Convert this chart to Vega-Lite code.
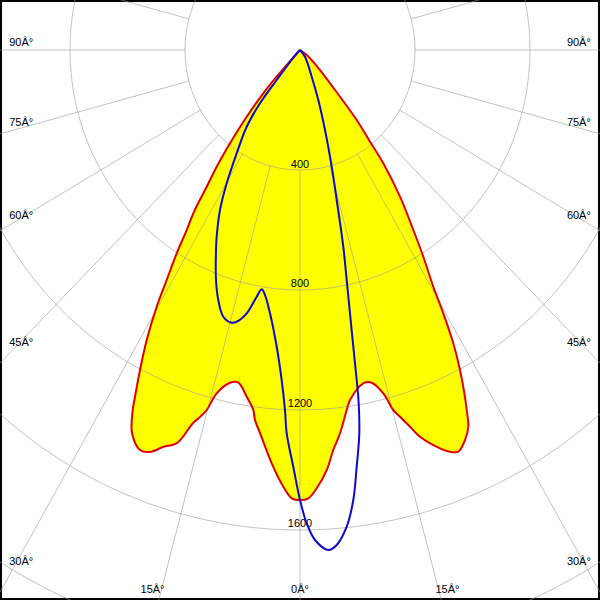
{
  "$schema": "https://vega.github.io/schema/vega-lite/v6.json",
  "width": 600,
  "height": 600,
  "padding": 0,
  "autosize": {"type": "none"},
  "background": "white",
  "config": {"view": {"stroke": "black", "strokeWidth": 4}},
  "datasets": {
    "c0": [
      {"i":1,"x":0,"y":0},{"i":2,"x":-81,"y":-89},{"i":3,"x":-127.7,"y":-144.3},{"i":4,"x":-185.4,"y":-222.3},
      {"i":5,"x":-243.5,"y":-311},{"i":6,"x":-289.8,"y":-389},{"i":7,"x":-324.5,"y":-455.7},{"i":8,"x":-371.1,"y":-544.3},
      {"i":9,"x":-394.1,"y":-600},{"i":10,"x":-428.9,"y":-677.7},{"i":11,"x":-463.7,"y":-766.7},{"i":12,"x":-498.4,"y":-855.7},
      {"i":13,"x":-533.2,"y":-966.7},{"i":14,"x":-556.5,"y":-1066.7},{"i":15,"x":-573.9,"y":-1155.7},{"i":16,"x":-581.9,"y":-1200},
      {"i":17,"x":-584.3,"y":-1276.7},{"i":18,"x":-556.5,"y":-1333.3},{"i":19,"x":-521.7,"y":-1340},{"i":20,"x":-476.5,"y":-1323.3},
      {"i":21,"x":-427.8,"y":-1310},{"i":22,"x":-372.2,"y":-1243.3},{"i":23,"x":-347.8,"y":-1223.3},{"i":24,"x":-324.5,"y":-1200},
      {"i":25,"x":-289.8,"y":-1144.3},{"i":26,"x":-243.5,"y":-1109},{"i":27,"x":-214.6,"y":-1109},{"i":28,"x":-185.4,"y":-1155.7},
      {"i":29,"x":-162.4,"y":-1200},{"i":30,"x":-156.5,"y":-1233.3},{"i":31,"x":-139.1,"y":-1276.7},{"i":32,"x":-98.4,"y":-1377.7},
      {"i":33,"x":-58.1,"y":-1455.7},{"i":34,"x":-28.9,"y":-1494.3},{"i":35,"x":0,"y":-1500},{"i":36,"x":28.9,"y":-1494.3},
      {"i":37,"x":58.1,"y":-1461},{"i":38,"x":92.9,"y":-1400},{"i":39,"x":115.8,"y":-1333.3},{"i":40,"x":139.1,"y":-1277.7},
      {"i":41,"x":162.4,"y":-1200},{"i":42,"x":173.9,"y":-1166.7},{"i":43,"x":220.2,"y":-1111},{"i":44,"x":249.4,"y":-1109},
      {"i":45,"x":289.7,"y":-1144.3},{"i":46,"x":324.5,"y":-1200},{"i":47,"x":347.8,"y":-1222.3},{"i":48,"x":382.6,"y":-1255.7},
      {"i":49,"x":417.4,"y":-1289},{"i":50,"x":487,"y":-1327.7},{"i":51,"x":521.7,"y":-1339},{"i":52,"x":550.6,"y":-1339},
      {"i":53,"x":573.9,"y":-1300},{"i":54,"x":585.4,"y":-1255.7},{"i":55,"x":579.8,"y":-1200},{"i":56,"x":573.9,"y":-1156.7},
      {"i":57,"x":556.5,"y":-1066.7},{"i":58,"x":533.2,"y":-977.7},{"i":59,"x":498.4,"y":-877.7},{"i":60,"x":463.7,"y":-789},
      {"i":61,"x":428.9,"y":-689},{"i":62,"x":394.1,"y":-600},{"i":63,"x":347.8,"y":-489},{"i":64,"x":289.7,"y":-377.7},
      {"i":65,"x":243.5,"y":-305.7},{"i":66,"x":197.2,"y":-233.3},{"i":67,"x":139.1,"y":-155.7},{"i":68,"x":69.6,"y":-66.7},
      {"i":69,"x":23.3,"y":-16.7},{"i":70,"x":0,"y":0}
    ],
    "c90": [
      {"i":1,"x":0,"y":0},{"i":2,"x":-11.5,"y":-11},{"i":3,"x":-81,"y":-100},{"i":4,"x":-139.1,"y":-177.7},
      {"i":5,"x":-185.4,"y":-255.7},{"i":6,"x":-220.2,"y":-344.3},{"i":7,"x":-255,"y":-444.3},{"i":8,"x":-278.3,"y":-533.3},
      {"i":9,"x":-289.8,"y":-622.3},{"i":10,"x":-292.2,"y":-666.7},{"i":11,"x":-292.2,"y":-766.7},{"i":12,"x":-284.2,"y":-833.3},
      {"i":13,"x":-266.8,"y":-889},{"i":14,"x":-237.6,"y":-909},{"i":15,"x":-220.2,"y":-905.7},{"i":16,"x":-185.4,"y":-877.7},
      {"i":17,"x":-150.6,"y":-822.3},{"i":18,"x":-133.2,"y":-797.7},{"i":19,"x":-121.7,"y":-816.7},{"i":20,"x":-104.3,"y":-877.7},
      {"i":21,"x":-81,"y":-989},{"i":22,"x":-63.7,"y":-1100},{"i":23,"x":-52.2,"y":-1200},{"i":24,"x":-46.3,"y":-1277.7},
      {"i":25,"x":-23.3,"y":-1389},{"i":26,"x":0,"y":-1500},{"i":27,"x":23.3,"y":-1577.7},{"i":28,"x":52.2,"y":-1633.3},
      {"i":29,"x":98.4,"y":-1666.7},{"i":30,"x":127.7,"y":-1650},{"i":31,"x":162.4,"y":-1589},{"i":32,"x":185.4,"y":-1500},
      {"i":33,"x":197.2,"y":-1389},{"i":34,"x":206.3,"y":-1277.7},{"i":35,"x":203.5,"y":-1166.7},{"i":36,"x":197.2,"y":-1100},
      {"i":37,"x":185.4,"y":-989},{"i":38,"x":173.9,"y":-877.7},{"i":39,"x":162.4,"y":-766.7},{"i":40,"x":150.6,"y":-655.7},
      {"i":41,"x":127.7,"y":-500},{"i":42,"x":110.3,"y":-389},{"i":43,"x":87,"y":-266.7},{"i":44,"x":63.7,"y":-166.7},
      {"i":45,"x":40.7,"y":-89},{"i":46,"x":17.4,"y":-22.3},{"i":47,"x":0,"y":0}
    ],
    "rings": [{"cd":400},{"cd":800},{"cd":1200},{"cd":1600},{"cd":2000}],
    "radials": [
      {"a":0,"x":0,"y":-400,"x2":0,"y2":-2400},
      {"a":15,"x":103.53,"y":-386.37,"x2":621.17,"y2":-2318.22},
      {"a":-15,"x":-103.53,"y":-386.37,"x2":-621.17,"y2":-2318.22},
      {"a":30,"x":200,"y":-346.41,"x2":1200,"y2":-2078.46},
      {"a":-30,"x":-200,"y":-346.41,"x2":-1200,"y2":-2078.46},
      {"a":45,"x":282.84,"y":-282.84,"x2":1697.06,"y2":-1697.06},
      {"a":-45,"x":-282.84,"y":-282.84,"x2":-1697.06,"y2":-1697.06},
      {"a":60,"x":346.41,"y":-200,"x2":2078.46,"y2":-1200},
      {"a":-60,"x":-346.41,"y":-200,"x2":-2078.46,"y2":-1200},
      {"a":75,"x":386.37,"y":-103.53,"x2":2318.22,"y2":-621.17},
      {"a":-75,"x":-386.37,"y":-103.53,"x2":-2318.22,"y2":-621.17},
      {"a":90,"x":400,"y":0,"x2":2400,"y2":0},
      {"a":-90,"x":-400,"y":0,"x2":-2400,"y2":0},
      {"a":105,"x":386.37,"y":103.53,"x2":2318.22,"y2":621.17},
      {"a":-105,"x":-386.37,"y":103.53,"x2":-2318.22,"y2":621.17}
    ],
    "labels": [
      {"t":"90Â°","x":-970,"y":13.3},{"t":"90Â°","x":970,"y":13.3},
      {"t":"75Â°","x":-970,"y":-253.3},{"t":"75Â°","x":970,"y":-253.3},
      {"t":"60Â°","x":-970,"y":-563.3},{"t":"60Â°","x":970,"y":-563.3},
      {"t":"45Â°","x":-970,"y":-986.7},{"t":"45Â°","x":970,"y":-986.7},
      {"t":"30Â°","x":-970,"y":-1717.8},{"t":"30Â°","x":970,"y":-1717.8},
      {"t":"15Â°","x":-513,"y":-1809},{"t":"15Â°","x":513,"y":-1809},
      {"t":"0Â°","x":0,"y":-1809},
      {"t":"400","x":0,"y":-393},{"t":"800","x":0,"y":-790},
      {"t":"1200","x":0,"y":-1190},{"t":"1600","x":0,"y":-1591}
    ]
  },
  "layer": [
    {
      "data": {"name": "c0"},
      "mark": {"type": "line", "interpolate": "catmull-rom", "fill": "#ffff00", "strokeWidth": 0, "clip": true},
      "encoding": {
        "x": {"field": "x", "type": "quantitative", "scale": {"domain": [-1043.5, 1043.5], "nice": false, "zero": false}, "axis": null},
        "y": {"field": "y", "type": "quantitative", "scale": {"domain": [-1833.3, 166.7], "nice": false, "zero": false}, "axis": null},
        "order": {"field": "i", "type": "quantitative"}
      }
    },
    {
      "data": {"name": "rings"},
      "mark": {"type": "point", "shape": "M -0.95833 0 A 0.95833 1 0 1 1 0.95833 0 A 0.95833 1 0 1 1 -0.95833 0 Z", "filled": false, "opacity": 1, "stroke": "#999999", "strokeOpacity": 0.6, "strokeWidth": 1},
      "encoding": {
        "x": {"datum": 0, "type": "quantitative", "scale": {"domain": [-1043.5, 1043.5], "nice": false, "zero": false}, "axis": null},
        "y": {"datum": 0, "type": "quantitative", "scale": {"domain": [-1833.3, 166.7], "nice": false, "zero": false}, "axis": null},
        "size": {"field": "cd", "type": "quantitative", "scale": {"type": "pow", "exponent": 2, "domain": [0, 400], "range": [0, 57600]}, "legend": null}
      }
    },
    {
      "data": {"name": "radials"},
      "mark": {"type": "rule", "stroke": "#999999", "strokeOpacity": 0.6, "strokeWidth": 1, "clip": true},
      "encoding": {
        "x": {"field": "x", "type": "quantitative", "scale": {"domain": [-1043.5, 1043.5], "nice": false, "zero": false}, "axis": null},
        "y": {"field": "y", "type": "quantitative", "scale": {"domain": [-1833.3, 166.7], "nice": false, "zero": false}, "axis": null},
        "x2": {"field": "x2"},
        "y2": {"field": "y2"}
      }
    },
    {
      "data": {"name": "labels"},
      "mark": {"type": "text", "align": "center", "baseline": "alphabetic", "font": "Liberation Sans", "fontSize": 11, "color": "#000000"},
      "encoding": {
        "x": {"field": "x", "type": "quantitative", "scale": {"domain": [-1043.5, 1043.5], "nice": false, "zero": false}, "axis": null},
        "y": {"field": "y", "type": "quantitative", "scale": {"domain": [-1833.3, 166.7], "nice": false, "zero": false}, "axis": null},
        "text": {"field": "t"}
      }
    },
    {
      "data": {"name": "c0"},
      "mark": {"type": "line", "interpolate": "catmull-rom", "stroke": "#e00000", "strokeWidth": 2, "clip": true},
      "encoding": {
        "x": {"field": "x", "type": "quantitative", "scale": {"domain": [-1043.5, 1043.5], "nice": false, "zero": false}, "axis": null},
        "y": {"field": "y", "type": "quantitative", "scale": {"domain": [-1833.3, 166.7], "nice": false, "zero": false}, "axis": null},
        "order": {"field": "i", "type": "quantitative"}
      }
    },
    {
      "data": {"name": "c90"},
      "mark": {"type": "line", "interpolate": "catmull-rom", "stroke": "#0a0ac8", "strokeWidth": 2, "clip": true},
      "encoding": {
        "x": {"field": "x", "type": "quantitative", "scale": {"domain": [-1043.5, 1043.5], "nice": false, "zero": false}, "axis": null},
        "y": {"field": "y", "type": "quantitative", "scale": {"domain": [-1833.3, 166.7], "nice": false, "zero": false}, "axis": null},
        "order": {"field": "i", "type": "quantitative"}
      }
    }
  ]
}
